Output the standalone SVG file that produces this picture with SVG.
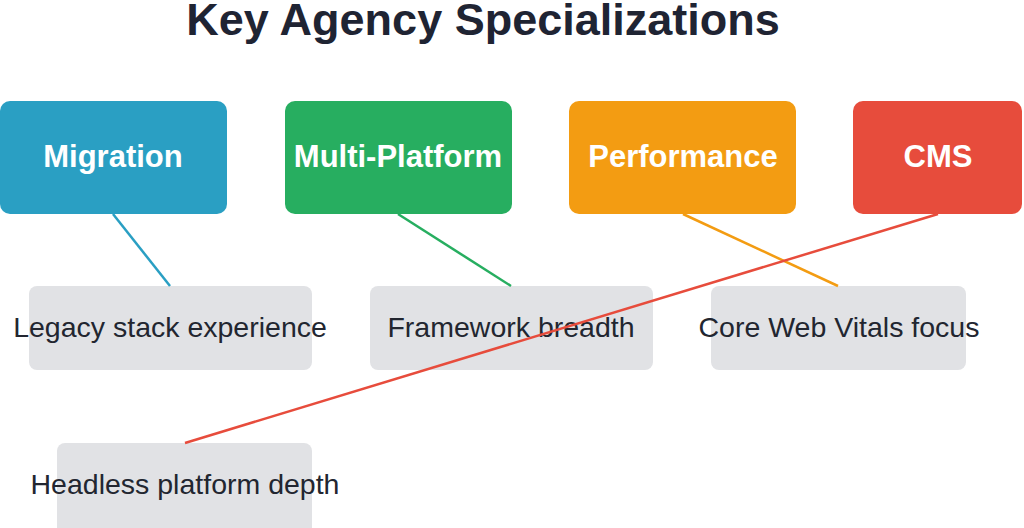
<svg xmlns="http://www.w3.org/2000/svg" width="1024" height="528" viewBox="0 0 1024 528">
<style>
.title{font-family:"Liberation Sans",Arial,sans-serif;font-weight:bold;font-size:45px;fill:#1f2433;text-anchor:middle}
.hl{font-family:"Liberation Sans",Arial,sans-serif;font-weight:bold;font-size:31px;fill:#ffffff;text-anchor:middle}
.dl{font-family:"Liberation Sans",Arial,sans-serif;font-size:28.5px;fill:#222630;text-anchor:middle}
.sub{fill:#e1e2e5}
.c{fill:none;stroke-width:2.5}
</style>
<rect width="1024" height="528" fill="#ffffff"/>
<text class="title" x="483" y="35">Key Agency Specializations</text>
<g id="detail-legacy"><rect class="sub" x="29" y="286" width="283" height="84" rx="8"/><text class="dl" x="170" y="337">Legacy stack experience</text></g>
<g id="detail-framework"><rect class="sub" x="370" y="286" width="283" height="84" rx="8"/><text class="dl" x="511" y="337">Framework breadth</text></g>
<g id="detail-cwv"><rect class="sub" x="711" y="286" width="255" height="84" rx="8"/><text class="dl" x="839" y="337">Core Web Vitals focus</text></g>
<g id="detail-headless"><rect class="sub" x="57" y="443" width="255" height="100" rx="8"/><text class="dl" x="185" y="494">Headless platform depth</text></g>
<g id="connectors">
<line class="c" x1="113" y1="214" x2="170" y2="286" stroke="#2a9fc3"/>
<line class="c" x1="398" y1="214" x2="511" y2="286" stroke="#27ae60"/>
<line class="c" x1="683" y1="214" x2="838" y2="286" stroke="#f39c12"/>
<line class="c" x1="938" y1="214" x2="185" y2="443" stroke="#e74c3c"/>
</g>
<g id="migration"><rect x="0" y="101" width="227" height="113" rx="10" fill="#2a9fc3"/><text class="hl" x="113" y="167">Migration</text></g>
<g id="multi-platform"><rect x="285" y="101" width="227" height="113" rx="10" fill="#27ae60"/><text class="hl" x="398" y="167">Multi-Platform</text></g>
<g id="performance"><rect x="569" y="101" width="227" height="113" rx="10" fill="#f39c12"/><text class="hl" x="683" y="167">Performance</text></g>
<g id="cms"><rect x="853" y="101" width="169" height="113" rx="10" fill="#e74c3c"/><text class="hl" x="938" y="167">CMS</text></g>
</svg>
